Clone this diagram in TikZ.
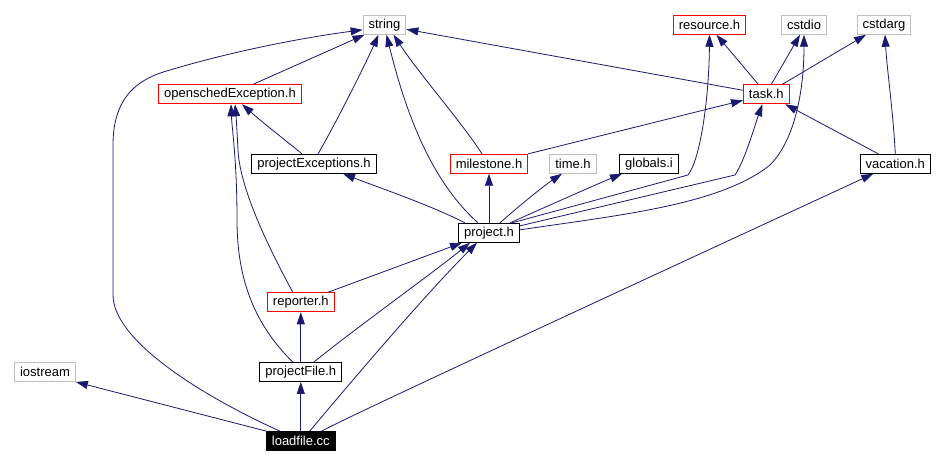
\documentclass[tikz,border=0pt]{standalone}
\usepackage{fontspec}
\setmainfont{Liberation Sans}
\usepackage{tikz}
\usetikzlibrary{arrows.meta}
\definecolor{cEdge}{HTML}{191970}
\definecolor{cMiss}{HTML}{FF0000}
\definecolor{cSys} {HTML}{BFBFBF}
\tikzset{
  file/.style  ={draw=black,fill=white,line width=0.9pt,inner xsep=5.5pt,inner ysep=0pt,
                 minimum height=19pt,font=\fontsize{13}{15}\selectfont},
  doc/.style   ={file},
  nodoc/.style ={file,draw=cMiss},
  sys/.style   ={file,draw=cSys},
  self/.style  ={file,fill=black,text=white},
  dep/.style   ={-{Triangle[length=12pt,width=8pt]},draw=cEdge,line width=0.8pt},
}

\begin{document}
\begin{tikzpicture}[x=1pt, y=-1pt]
\useasboundingbox (0,0) rectangle (945,465);

% ===== top row: headers with no further includes ===========================
\node[sys]   (str)  at (384.5,24.8) {string};
\node[nodoc] (res)  at (709.5,24.8) {resource.h};
\node[sys]   (cio)  at (804,24.8)   {cstdio};
\node[sys]   (carg) at (884,24.8)   {cstdarg};

% ===== middle rows ========================================================
\node[nodoc] (ose)  at (230,94.3)   {openschedException.h};
\node[nodoc] (task) at (766.3,94.3) {task.h};
\node[doc]   (pe)   at (314,163.8)  {projectExceptions.h};
\node[nodoc] (ms)   at (489,163.8)  {milestone.h};
\node[sys]   (time) at (573,163.8)  {time.h};
\node[doc]   (glob) at (649,163.8)  {globals.i};
\node[doc]   (vac)  at (895.3,163.8){vacation.h};
\node[doc]   (proj) at (489,232.8)  {project.h};
\node[nodoc] (rep)  at (300.8,302.3){reporter.h};
\node[doc]   (pf)   at (300.8,372)  {projectFile.h};
\node[sys]   (ios)  at (45,372)     {iostream};
\node[self]  (ld)   at (300.8,441)  {loadfile.cc};

% ===== loadfile.cc ========================================================
\foreach \a/\b in {ld/pf, pf/rep, proj/ms}{\draw[dep] (\a.north) -- (\b.south);}
\draw[dep] (ld.north west) -- (ios.south east);
\draw[dep] ([xshift=-21pt]ld.north) .. controls (200,395) and (113,340) .. (113,295)
  -- (113,145) .. controls (113,95) and (140,78) .. (170,70)
  .. controls (230,52) and (300,38) .. ([yshift=-5pt]str.west);
\draw[dep] ([xshift=9pt]ld.north) .. controls (340,395) and (420,300) .. ([xshift=-12pt]proj.south);
\draw[dep] ([xshift=21pt]ld.north) .. controls (345,418) and (600,300) .. ([xshift=-22pt]vac.south);

% ===== projectFile.h / reporter.h =========================================
\draw[dep] ([xshift=-8pt]pf.north) .. controls (255,325) and (237,280) .. (237,220)
  .. controls (237,160) and (232,130) .. ([xshift=1pt]ose.south);
\draw[dep] ([xshift=13pt]pf.north) .. controls (360,325) and (430,275) .. ([xshift=-19pt]proj.south);
\draw[dep] ([xshift=-8pt]rep.north) .. controls (270,250) and (240,190) .. (238,150)
  .. controls (237,130) and (236,115) .. ([xshift=5pt]ose.south);
\draw[dep] ([xshift=27pt]rep.north) -- ([xshift=-27pt]proj.south);

% ===== project.h ==========================================================
\draw[dep] ([xshift=-24pt]proj.north) .. controls (430,205) and (380,188) .. ([xshift=29pt]pe.south);
\draw[dep] ([xshift=-11pt]proj.north) .. controls (430,180) and (405,110) .. ([xshift=2pt]str.south);
\draw[dep] ([xshift=11pt]proj.north) .. controls (520,205) and (545,185) .. ([xshift=-11pt]time.south);
\draw[dep] ([xshift=21pt]proj.north) .. controls (550,205) and (595,185) .. ([xshift=-27pt]glob.south);
\draw[dep] ([xshift=23pt]proj.north) -- (688,175) .. controls (700,160) and (709,100) .. (res.south);
\draw[dep] ([yshift=-3pt]proj.north east) -- (735,175) .. controls (745,160) and (755,125) .. ([xshift=-4pt]task.south);
\draw[dep] ([yshift=-7pt]proj.north east) .. controls (620,215) and (720,205) .. (770,165)
  .. controls (795,140) and (804,90) .. (cio.south);

% ===== remaining headers ==================================================
\draw[dep] ([xshift=4pt]pe.north) .. controls (335,125) and (365,65) .. ([xshift=-6pt]str.south);
\draw[dep] ([xshift=-12pt]pe.north) .. controls (285,140) and (262,122) .. ([xshift=12pt]ose.south);
\draw[dep] ([xshift=23pt]ose.north) -- ([xshift=-20pt]str.south);
\draw[dep] ([xshift=-7pt]ms.north) .. controls (460,120) and (420,75) .. ([xshift=9pt]str.south);
\draw[dep] (ms.north east) -- ([yshift=-6pt]task.west);
\draw[dep] ([yshift=4pt]task.west) -- ([yshift=-4.5pt]str.east);
\draw[dep] ([xshift=-8pt]task.north) -- ([xshift=7pt]res.south);
\draw[dep] ([xshift=5pt]task.north) -- ([xshift=-4pt]cio.south);
\draw[dep] ([xshift=16pt]task.north) -- ([xshift=-18pt]carg.south);
\draw[dep] ([xshift=-17pt]vac.north) -- ([xshift=19pt]task.south);
\draw[dep] (vac.north) .. controls (893,110) and (887,70) .. ([xshift=1pt]carg.south);
\end{tikzpicture}
\end{document}
